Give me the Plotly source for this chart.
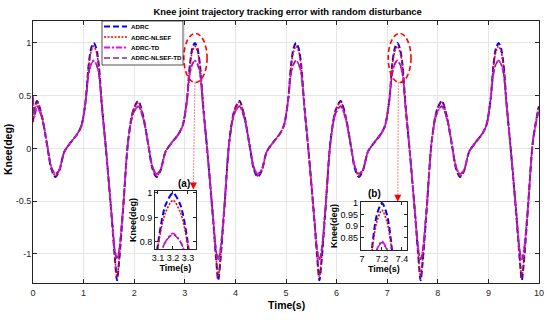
import plotly.graph_objects as go

# ---------------- data ----------------
t = [0.00, 0.03,
     0.08, 0.18, 0.28, 0.36, 0.44, 0.52, 0.62, 0.75, 0.88, 0.96, 1.04, 1.10, 1.15, 1.20, 1.25, 1.30, 1.36, 1.45, 1.55, 1.62, 1.66, 1.70, 1.78, 1.88, 1.98,
     2.08, 2.18, 2.28, 2.36, 2.44, 2.52, 2.62, 2.75, 2.88, 2.96, 3.04, 3.10, 3.15, 3.20, 3.25, 3.30, 3.36, 3.45, 3.55, 3.62, 3.66, 3.70, 3.78, 3.88, 3.98,
     4.08, 4.18, 4.28, 4.36, 4.44, 4.52, 4.62, 4.75, 4.88, 4.96, 5.04, 5.10, 5.15, 5.20, 5.25, 5.30, 5.36, 5.45, 5.55, 5.62, 5.66, 5.70, 5.78, 5.88, 5.98,
     6.08, 6.18, 6.28, 6.36, 6.44, 6.52, 6.62, 6.75, 6.88, 6.96, 7.04, 7.10, 7.15, 7.20, 7.25, 7.30, 7.36, 7.45, 7.55, 7.62, 7.66, 7.70, 7.78, 7.88, 7.98,
     8.08, 8.18, 8.28, 8.36, 8.44, 8.52, 8.62, 8.75, 8.88, 8.96, 9.04, 9.10, 9.15, 9.20, 9.25, 9.30, 9.36, 9.45, 9.55, 9.62, 9.66, 9.70, 9.78, 9.88, 9.98,
     10.00]

adrc = [0.25, 0.38,
        0.45, 0.30, 0.03, -0.19, -0.27, -0.21, -0.03, 0.06, 0.14, 0.22, 0.45, 0.79, 0.95, 1.00, 0.95, 0.79, 0.42, -0.05, -0.62, -1.05, -1.25, -1.08, -0.58, 0.07, 0.36,
        0.45, 0.30, 0.03, -0.19, -0.27, -0.21, -0.03, 0.06, 0.14, 0.22, 0.45, 0.79, 0.95, 1.00, 0.95, 0.79, 0.42, -0.05, -0.62, -1.05, -1.25, -1.08, -0.58, 0.07, 0.36,
        0.45, 0.30, 0.03, -0.19, -0.27, -0.21, -0.03, 0.06, 0.14, 0.22, 0.45, 0.79, 0.95, 1.00, 0.95, 0.79, 0.42, -0.05, -0.62, -1.05, -1.25, -1.08, -0.58, 0.07, 0.36,
        0.45, 0.30, 0.03, -0.19, -0.27, -0.21, -0.03, 0.06, 0.14, 0.22, 0.45, 0.80, 0.95, 1.00, 0.95, 0.80, 0.42, -0.05, -0.62, -1.05, -1.25, -1.08, -0.58, 0.07, 0.36,
        0.45, 0.30, 0.03, -0.19, -0.27, -0.21, -0.03, 0.06, 0.14, 0.22, 0.45, 0.79, 0.95, 1.00, 0.95, 0.79, 0.42, -0.05, -0.62, -1.05, -1.25, -1.08, -0.58, 0.07, 0.36,
        0.40]

adrc_nlsef = [0.25, 0.37,
              0.44, 0.30, 0.04, -0.18, -0.26, -0.21, -0.03, 0.06, 0.14, 0.22, 0.45, 0.78, 0.92, 0.97, 0.92, 0.78, 0.42, -0.05, -0.62, -1.04, -1.22, -1.06, -0.58, 0.07, 0.36,
              0.44, 0.30, 0.04, -0.18, -0.26, -0.21, -0.03, 0.06, 0.14, 0.22, 0.45, 0.78, 0.92, 0.97, 0.92, 0.78, 0.42, -0.05, -0.62, -1.04, -1.22, -1.06, -0.58, 0.07, 0.36,
              0.44, 0.30, 0.04, -0.18, -0.26, -0.21, -0.03, 0.06, 0.14, 0.22, 0.45, 0.78, 0.92, 0.97, 0.92, 0.78, 0.42, -0.05, -0.62, -1.04, -1.22, -1.06, -0.58, 0.07, 0.36,
              0.44, 0.30, 0.04, -0.18, -0.26, -0.21, -0.03, 0.06, 0.14, 0.22, 0.45, 0.79, 0.92, 0.97, 0.92, 0.79, 0.42, -0.05, -0.62, -1.04, -1.22, -1.06, -0.58, 0.07, 0.36,
              0.44, 0.30, 0.04, -0.18, -0.26, -0.21, -0.03, 0.06, 0.14, 0.22, 0.45, 0.78, 0.92, 0.97, 0.92, 0.78, 0.42, -0.05, -0.62, -1.04, -1.22, -1.06, -0.58, 0.07, 0.36,
              0.40]

adrc_td = [0.50, 0.30,
           0.40, 0.28, 0.03, -0.17, -0.24, -0.20, -0.03, 0.06, 0.14, 0.22, 0.45, 0.71, 0.80, 0.835, 0.80, 0.71, 0.40, -0.05, -0.60, -0.97, -1.05, -0.97, -0.56, 0.07, 0.33,
           0.40, 0.28, 0.03, -0.17, -0.24, -0.20, -0.03, 0.06, 0.14, 0.22, 0.45, 0.71, 0.80, 0.835, 0.80, 0.71, 0.40, -0.05, -0.60, -0.97, -1.05, -0.97, -0.56, 0.07, 0.33,
           0.40, 0.28, 0.03, -0.17, -0.24, -0.20, -0.03, 0.06, 0.14, 0.22, 0.45, 0.71, 0.80, 0.835, 0.80, 0.71, 0.40, -0.05, -0.60, -0.97, -1.05, -0.97, -0.56, 0.07, 0.33,
           0.40, 0.28, 0.03, -0.17, -0.24, -0.20, -0.03, 0.06, 0.14, 0.22, 0.45, 0.71, 0.80, 0.835, 0.80, 0.71, 0.40, -0.05, -0.60, -0.97, -1.05, -0.97, -0.56, 0.07, 0.33,
           0.40, 0.28, 0.03, -0.17, -0.24, -0.20, -0.03, 0.06, 0.14, 0.22, 0.45, 0.71, 0.80, 0.835, 0.80, 0.71, 0.40, -0.05, -0.60, -0.97, -1.05, -0.97, -0.56, 0.07, 0.33,
           0.37]

adrc_nlsef_td = [0.48, 0.31,
                 0.40, 0.28, 0.03, -0.17, -0.24, -0.20, -0.03, 0.06, 0.14, 0.22, 0.45, 0.71, 0.80, 0.83, 0.80, 0.71, 0.40, -0.05, -0.60, -0.97, -1.05, -0.97, -0.56, 0.07, 0.33,
                 0.40, 0.28, 0.03, -0.17, -0.24, -0.20, -0.03, 0.06, 0.14, 0.22, 0.45, 0.71, 0.80, 0.83, 0.80, 0.71, 0.40, -0.05, -0.60, -0.97, -1.05, -0.97, -0.56, 0.07, 0.33,
                 0.40, 0.28, 0.03, -0.17, -0.24, -0.20, -0.03, 0.06, 0.14, 0.22, 0.45, 0.71, 0.80, 0.83, 0.80, 0.71, 0.40, -0.05, -0.60, -0.97, -1.05, -0.97, -0.56, 0.07, 0.33,
                 0.40, 0.28, 0.03, -0.17, -0.24, -0.20, -0.03, 0.06, 0.14, 0.22, 0.45, 0.71, 0.80, 0.83, 0.80, 0.71, 0.40, -0.05, -0.60, -0.97, -1.05, -0.97, -0.56, 0.07, 0.33,
                 0.40, 0.28, 0.03, -0.17, -0.24, -0.20, -0.03, 0.06, 0.14, 0.22, 0.45, 0.71, 0.80, 0.83, 0.80, 0.71, 0.40, -0.05, -0.60, -0.97, -1.05, -0.97, -0.56, 0.07, 0.33,
                 0.37]

series_names = ["ADRC", "ADRC-NLSEF", "ADRC-TD", "ADRC-NLSEF-TD"]
x_ticks = [0, 1, 2, 3, 4, 5, 6, 7, 8, 9, 10]
y_ticks = [-1, -0.5, 0, 0.5, 1]
y_tick_labels = ["-1", "-0.5", "0", "0.5", "1"]
inset_a_xticks = [3.1, 3.2, 3.3]
inset_a_yticks = [0.8, 0.9, 1.0]
inset_a_ytick_labels = ["0.8", "0.9", "1"]
inset_b_xticks = [7.0, 7.2, 7.4]
inset_b_xtick_labels = ["7", "7.2", "7.4"]
inset_b_yticks = [0.85, 0.9, 0.95, 1.0]
inset_b_ytick_labels = ["0.85", "0.9", "0.95", "1"]

# ---------------- styles ----------------
FONT = "Liberation Sans, Arial, sans-serif"
AX = "#262626"
styles = [
    dict(color="#0000FF", dash="6px,3px", width=2.0),
    dict(color="#FF0000", dash="2px,1.5px", width=1.6),
    dict(color="#FF00FF", dash="6px,2px,2px,2px", width=1.8),
    dict(color="#7E2F8E", dash="6px,3px", width=1.4),
]
all_series = [adrc, adrc_nlsef, adrc_td, adrc_nlsef_td]

fig = go.Figure()
for axes in ("", "2", "3"):
    for name, ys, st in zip(series_names, all_series, styles):
        fig.add_trace(go.Scatter(
            x=t, y=ys, mode="lines", name=name, showlegend=False,
            line=dict(color=st["color"], dash=st["dash"], width=st["width"],
                      shape="spline", smoothing=0.8),
            xaxis="x" + axes, yaxis="y" + axes, hoverinfo="skip"))

def main_axis(**kw):
    d = dict(showline=True, linecolor=AX, linewidth=1, mirror="ticks",
             ticks="inside", ticklen=4, tickcolor=AX, tickwidth=1,
             showgrid=True, gridcolor="#E6E6E6", gridwidth=1, zeroline=False,
             automargin=False,
             tickfont=dict(family=FONT, size=9, color=AX))
    d.update(kw)
    return d

def inset_axis(**kw):
    d = dict(showline=True, linecolor=AX, linewidth=1, mirror="ticks",
             ticks="inside", ticklen=3, tickcolor=AX, tickwidth=1,
             showgrid=False, zeroline=False, automargin=False,
             tickfont=dict(family=FONT, size=9, color="#000000"))
    d.update(kw)
    return d

TITLE_FONT = dict(family=FONT, size=9, color="#000000", weight="bold")

fig.update_layout(
    width=550, height=320,
    margin=dict(l=33, r=11, t=21, b=37),
    paper_bgcolor="white", plot_bgcolor="white",
    showlegend=False,
    title=dict(text="Knee joint trajectory tracking error with random disturbance",
               x=0.523, xanchor="center", y=1 - 12 / 320, yanchor="middle",
               font=dict(family=FONT, size=9.4, color="#000000", weight="bold")),
    xaxis=main_axis(range=[0, 10], tickvals=x_ticks, domain=[0, 1], ticklabelstandoff=1),
    yaxis=main_axis(range=[-1.275, 1.208], tickvals=y_ticks, ticktext=y_tick_labels, domain=[0, 1],
                    ticklabelstandoff=-1),
    xaxis2=inset_axis(anchor="y2", domain=[0.241, 0.322], range=[3.08, 3.353], tickvals=inset_a_xticks,
                      title=dict(text="Time(s)", standoff=2, font=TITLE_FONT)),
    yaxis2=inset_axis(anchor="x2", domain=[0.130, 0.351], range=[0.771, 1.008], tickvals=inset_a_yticks,
                      ticktext=inset_a_ytick_labels,
                      title=dict(text="Knee(deg)", standoff=1, font=TITLE_FONT)),
    xaxis3=inset_axis(anchor="y3", domain=[0.648, 0.739], range=[6.99, 7.45], tickvals=inset_b_xticks,
                      ticktext=inset_b_xtick_labels,
                      title=dict(text="Time(s)", standoff=2, font=TITLE_FONT)),
    yaxis3=inset_axis(anchor="x3", domain=[0.126, 0.309], range=[0.798, 1.004], tickvals=inset_b_yticks,
                      ticktext=inset_b_ytick_labels,
                      title=dict(text="Knee(deg)", standoff=1, font=TITLE_FONT)),
)

PL, PW, PB, PH = 33, 506, 283, 262
def px(xp):
    return (xp - PL) / PW
def py(yp):
    return (PB - yp) / PH

# main axis titles
fig.add_annotation(x=px(286), y=py(305), xref="paper", yref="paper", text="Time(s)", showarrow=False,
                   xanchor="center", yanchor="middle",
                   font=dict(family=FONT, size=10.5, color="#000000", weight="bold"))
fig.add_annotation(x=px(8), y=py(150), xref="paper", yref="paper", text="Knee(deg)", showarrow=False,
                   textangle=-90, xanchor="center", yanchor="middle",
                   font=dict(family=FONT, size=10.5, color="#000000", weight="bold"))

# white backgrounds behind the insets
fig.add_shape(type="rect", xref="x2", yref="y2", x0=3.08, x1=3.353, y0=0.771, y1=1.008,
              fillcolor="white", line=dict(width=0), layer="below")
fig.add_shape(type="rect", xref="x3", yref="y3", x0=6.99, x1=7.45, y0=0.798, y1=1.004,
              fillcolor="white", line=dict(width=0), layer="below")

# ellipses around the highlighted peaks
for x0, x1 in ((2.98, 3.44), (7.02, 7.47)):
    fig.add_shape(type="circle", xref="x", yref="y", x0=x0, x1=x1, y0=0.625, y1=1.09,
                  line=dict(color="#FF0000", width=1.6, dash="5px,3px"), layer="above")

# dotted leader lines with arrow heads
for xt, xb, yb in ((3.20, 3.17, -0.39), (7.22, 7.21, -0.505)):
    fig.add_shape(type="line", xref="x", yref="y", x0=xt, x1=xb, y0=0.625, y1=yb + 0.06,
                  line=dict(color="#FF0000", width=1, dash="1px,2px"), layer="above")
    fig.add_annotation(x=xb, y=yb, ax=xb, ay=yb + 0.07, xref="x", yref="y", axref="x", ayref="y",
                       text="", showarrow=True, arrowhead=2, arrowsize=1.4, arrowwidth=1,
                       arrowcolor="#FF0000")

# inset labels
fig.add_annotation(x=px(176), y=py(183), xref="paper", yref="paper", text="(a)", showarrow=False,
                   font=dict(family=FONT, size=10, color="#000000", weight="bold"))
fig.add_annotation(x=px(383), y=py(193), xref="paper", yref="paper", text="(b)", showarrow=False,
                   font=dict(family=FONT, size=10, color="#000000", weight="bold"))

# compact legend box (MATLAB style) in the top-left of the axes
fig.add_shape(type="rect", xref="paper", yref="paper", x0=px(102), x1=px(183), y0=py(65), y1=py(21),
              fillcolor="white", line=dict(color=AX, width=0.8), layer="above")
for i, (name, st) in enumerate(zip(series_names, styles)):
    yy = py(26.5 + 10.5 * i)
    fig.add_shape(type="line", xref="paper", yref="paper", x0=px(104), x1=px(127), y0=yy, y1=yy,
                  line=dict(color=st["color"], dash=st["dash"], width=st["width"]), layer="above")
    fig.add_annotation(x=px(129), y=yy, xref="paper", yref="paper", text=name, showarrow=False,
                       xanchor="left", yanchor="middle",
                       font=dict(family=FONT, size=6.2, color="#000000", weight="bold"))

fig.write_html("out.html", config={"displayModeBar": False, "staticPlot": True},
               post_script="document.body.style.margin='0px';")
